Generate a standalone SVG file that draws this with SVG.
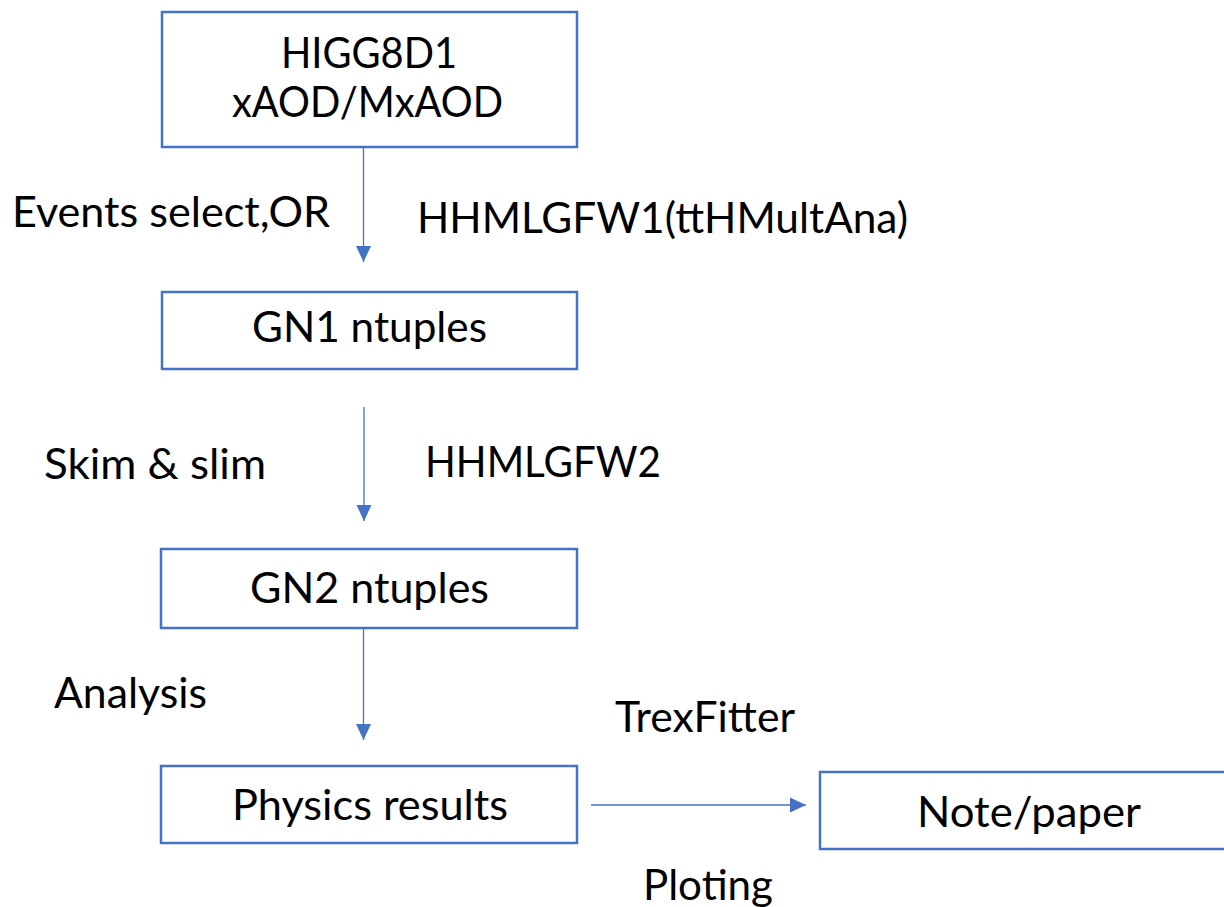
<svg xmlns="http://www.w3.org/2000/svg" width="1224" height="907" viewBox="0 0 1224 907">
  <defs>
    <style>
      .box { fill: #ffffff; stroke: #4472C4; stroke-width: 2.5; }
      .conn { stroke: #4472C4; stroke-width: 1.3; fill: none; }
      .t { font-family: Lato, "Open Sans", "Liberation Sans", sans-serif; font-size: 42px; fill: #000000; }
    </style>
    <marker id="ah" markerUnits="userSpaceOnUse" markerWidth="16" markerHeight="16" viewBox="0 0 16 16" refX="16" refY="8" orient="auto">
      <path d="M0,0.5 L16,8 L0,15.5 z" fill="#4472C4"/>
    </marker>
  </defs>
  <rect width="1224" height="907" fill="#ffffff"/>

  <g id="connectors">
    <line class="conn" x1="363.5" y1="148" x2="363.5" y2="262" marker-end="url(#ah)"/>
    <line class="conn" x1="364" y1="407" x2="364" y2="521" marker-end="url(#ah)"/>
    <line class="conn" x1="363.5" y1="629" x2="363.5" y2="740" marker-end="url(#ah)"/>
    <line class="conn" x1="591" y1="805" x2="806" y2="805" marker-end="url(#ah)"/>
  </g>

  <g id="node-higg8d1">
    <rect class="box" x="162" y="12" width="415" height="135"/>
    <text class="t" x="281" y="68" textLength="176" lengthAdjust="spacingAndGlyphs">HIGG8D1</text>
    <text class="t" x="232" y="117" textLength="271" lengthAdjust="spacingAndGlyphs">xAOD/MxAOD</text>
  </g>

  <g id="node-gn1">
    <rect class="box" x="162" y="292" width="415" height="77"/>
    <text class="t" x="252" y="342" textLength="235" lengthAdjust="spacingAndGlyphs">GN1 ntuples</text>
  </g>

  <g id="node-gn2">
    <rect class="box" x="161" y="549" width="416" height="79"/>
    <text class="t" x="250" y="603" textLength="239" lengthAdjust="spacingAndGlyphs">GN2 ntuples</text>
  </g>

  <g id="node-physics">
    <rect class="box" x="161" y="766" width="416" height="77"/>
    <text class="t" x="232" y="820" textLength="276" lengthAdjust="spacingAndGlyphs">Physics results</text>
  </g>

  <g id="node-note">
    <rect class="box" x="820" y="772" width="420" height="77"/>
    <text class="t" x="917" y="827" textLength="224" lengthAdjust="spacingAndGlyphs">Note/paper</text>
  </g>

  <g id="labels">
    <text class="t" x="12" y="227" textLength="318" lengthAdjust="spacingAndGlyphs">Events select,OR</text>
    <text class="t" x="417" y="233" textLength="491" lengthAdjust="spacingAndGlyphs">HHMLGFW1(ttHMultAna)</text>
    <text class="t" x="44" y="479" textLength="222" lengthAdjust="spacingAndGlyphs">Skim &amp; slim</text>
    <text class="t" x="425" y="477" textLength="236" lengthAdjust="spacingAndGlyphs">HHMLGFW2</text>
    <text class="t" x="54" y="708" textLength="153" lengthAdjust="spacingAndGlyphs">Analysis</text>
    <text class="t" x="615" y="732" textLength="180" lengthAdjust="spacingAndGlyphs">TrexFitter</text>
    <text class="t" x="643" y="900" textLength="130" lengthAdjust="spacingAndGlyphs">Ploting</text>
  </g>
</svg>
